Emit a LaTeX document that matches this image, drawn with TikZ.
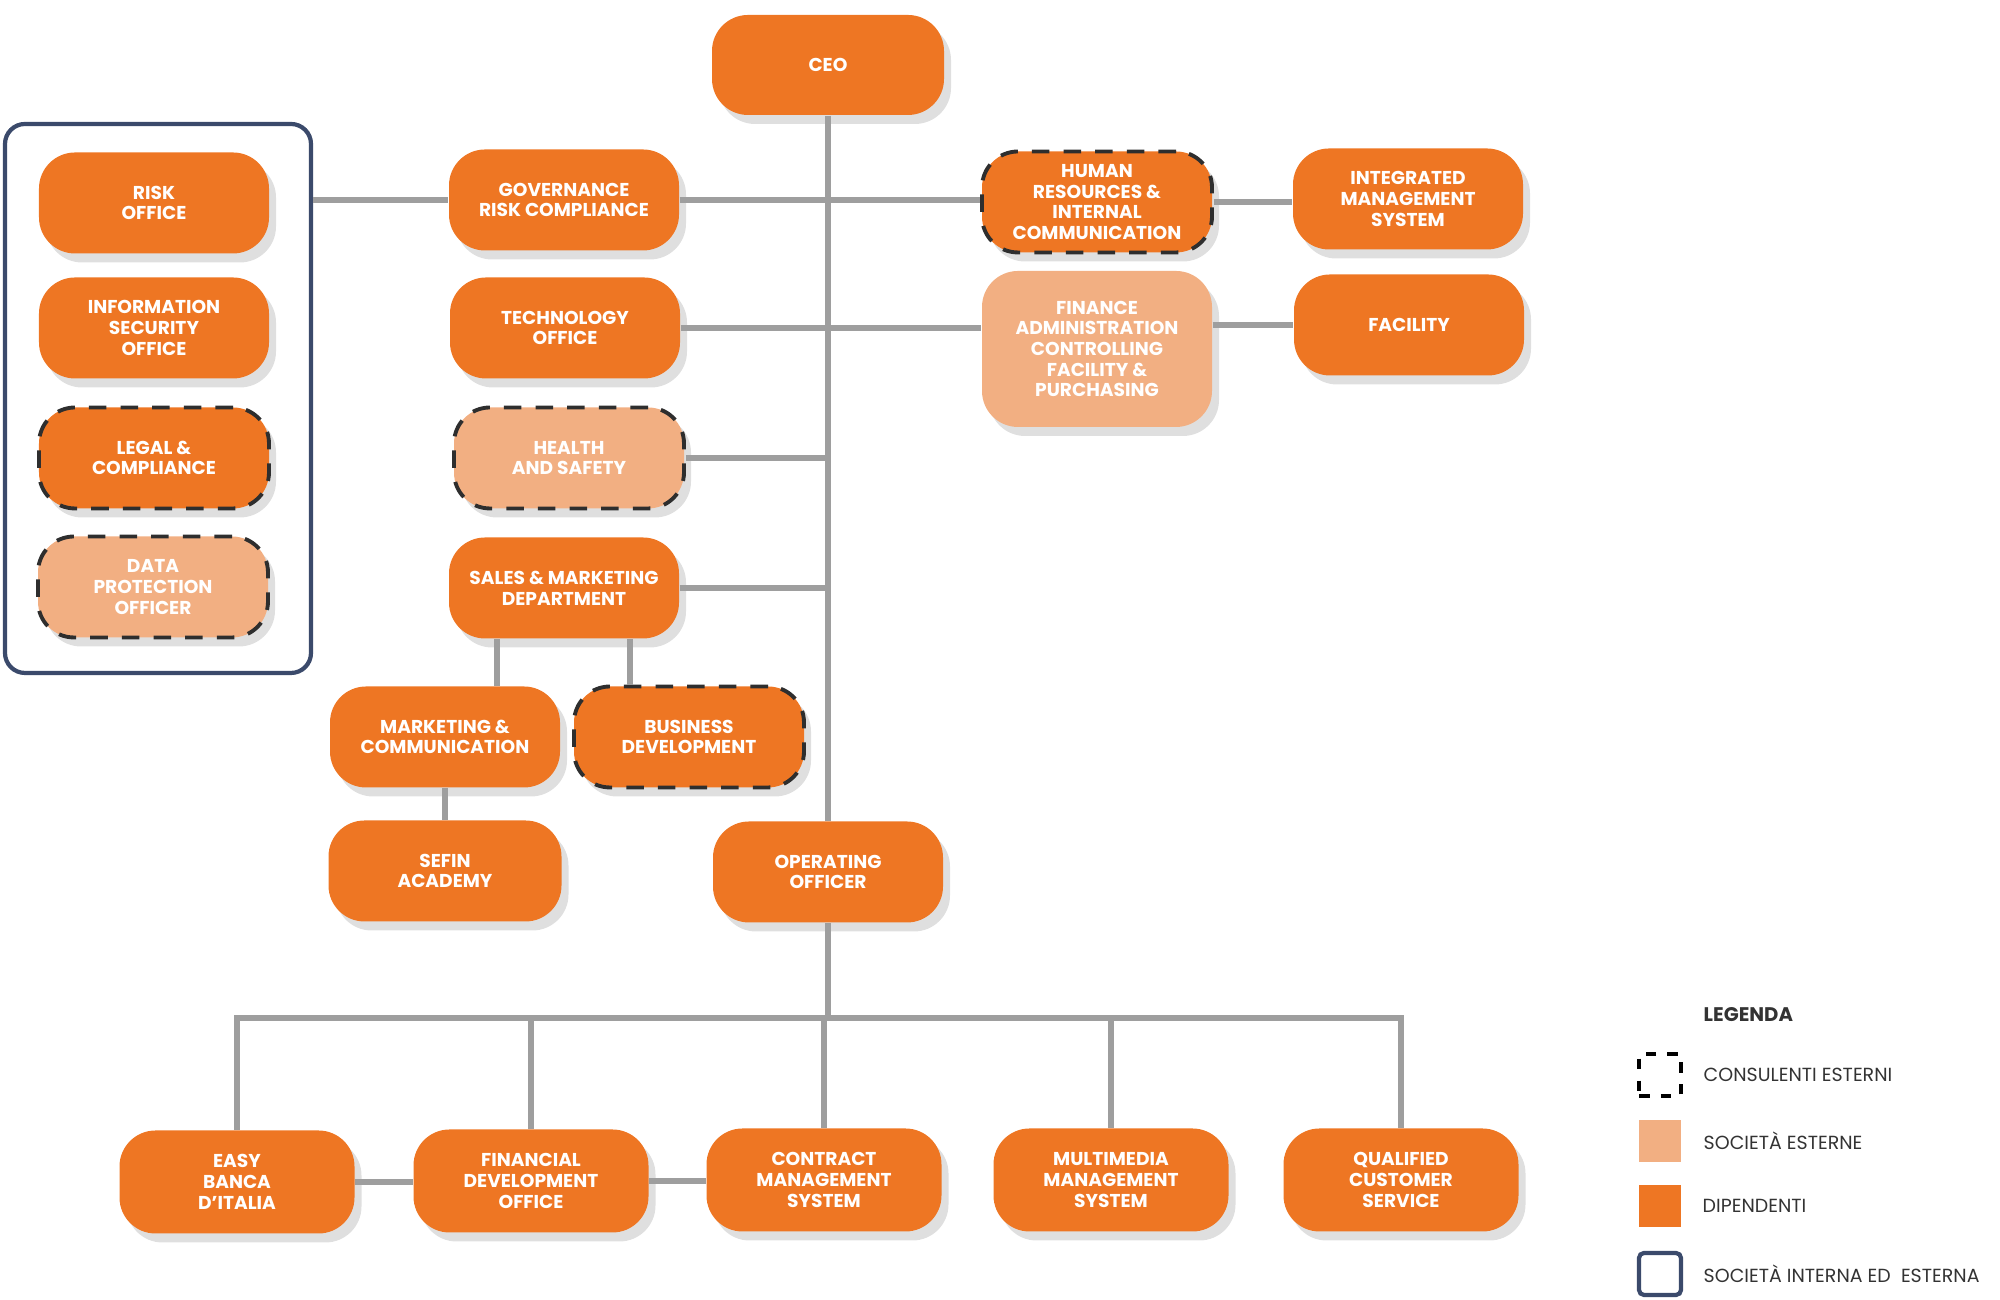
\documentclass[tikz,border=0pt]{standalone}
\usepackage{fontspec}
\setmainfont{Poppins}
\usepackage{xcolor}
\usepackage{tikz}
\usetikzlibrary{
    shapes.geometric,
    shadows
}
\definecolor{arancio}{HTML}{EE7623}
\definecolor{chiaro}{HTML}{F2AF82}
\definecolor{blu}{HTML}{3B4A6B}
\definecolor{grigio}{HTML}{9E9E9E}
\definecolor{tratto}{HTML}{2E2E2E}
\definecolor{scritta}{HTML}{333333}

\begin{document}
\begin{tikzpicture}[
    box/.style={rectangle, rounded corners=0.36cm, fill=arancio, text=white,
        minimum width=2.3cm, minimum height=1.01cm, align=center, inner sep=1pt,
        font=\fontsize{5.3}{5.9}\selectfont\bfseries,
        drop shadow={shadow xshift=0.07cm, shadow yshift=-0.09cm, opacity=0.25}},
    esterna/.style={fill=chiaro},
    consulente/.style={draw=tratto, line width=1.1pt, dash pattern=on 5pt off 4pt},
    linea/.style={draw=grigio, line width=1.9pt},
    gruppo/.style={draw=blu, line width=1.2pt, rounded corners=0.2cm},
    quadro/.style={minimum size=0.42cm, inner sep=0pt},
    voce/.style={anchor=west, text=scritta, inner sep=0pt,
        font=\fontsize{5.4}{6.0}\selectfont}
]
    \useasboundingbox (0,0) rectangle (20,13);

    \node[gruppo, minimum width=3.06cm, minimum height=5.49cm] (grp) at (1.58,9.015) {};

    \node[box, minimum width=2.32cm, minimum height=1.0cm] (ceo) at (8.28,12.35) {CEO};

    \node[box] (risk) at (1.54,10.97) {RISK\\OFFICE};
    \node[box] (iso) at (1.54,9.72) {INFORMATION\\SECURITY\\OFFICE};
    \node[box, consulente] (legal) at (1.54,8.42) {LEGAL \&\\COMPLIANCE};
    \node[box, esterna, consulente] (dpo) at (1.53,7.13) {DATA\\PROTECTION\\OFFICER};

    \node[box] (gov) at (5.64,11.00) {GOVERNANCE\\RISK COMPLIANCE};
    \node[box] (tech) at (5.65,9.72) {TECHNOLOGY\\OFFICE};
    \node[box, esterna, consulente] (hs) at (5.69,8.42) {HEALTH\\AND SAFETY};
    \node[box] (sales) at (5.64,7.12) {SALES \& MARKETING\\DEPARTMENT};
    \node[box] (mkt) at (4.45,5.63) {MARKETING \&\\COMMUNICATION};
    \node[box, consulente] (bd) at (6.89,5.63) {BUSINESS\\DEVELOPMENT};
    \node[box, minimum width=2.33cm] (sefin) at (4.45,4.29) {SEFIN\\ACADEMY};
    \node[box] (op) at (8.28,4.28) {OPERATING\\OFFICER};

    \node[box, consulente] (hr) at (10.97,10.98) {HUMAN\\RESOURCES \&\\INTERNAL\\COMMUNICATION};
    \node[box, esterna, minimum height=1.56cm] (fin) at (10.97,9.51) {FINANCE\\ADMINISTRATION\\CONTROLLING\\FACILITY \&\\PURCHASING};
    \node[box] (ims) at (14.08,11.01) {INTEGRATED\\MANAGEMENT\\SYSTEM};
    \node[box] (fac) at (14.09,9.75) {FACILITY};

    \node[box, minimum width=2.35cm, minimum height=1.03cm] (easy) at (2.37,1.18) {EASY\\BANCA\\D’ITALIA};
    \node[box, minimum width=2.35cm, minimum height=1.03cm] (fdo) at (5.31,1.19) {FINANCIAL\\DEVELOPMENT\\OFFICE};
    \node[box, minimum width=2.35cm, minimum height=1.03cm] (cms) at (8.24,1.20) {CONTRACT\\MANAGEMENT\\SYSTEM};
    \node[box, minimum width=2.35cm, minimum height=1.03cm] (mms) at (11.11,1.20) {MULTIMEDIA\\MANAGEMENT\\SYSTEM};
    \node[box, minimum width=2.35cm, minimum height=1.03cm] (qcs) at (14.01,1.20) {QUALIFIED\\CUSTOMER\\SERVICE};

    \coordinate (bus) at (8.28,2.82);

    \draw[linea] (ceo.south) -- (ceo.south |- op.north);
    \draw[linea] (grp.east |- gov.west) -- (gov.west);
    \draw[linea] (gov.east) -- (gov.east -| hr.west);
    \draw[linea] (hr.east) -- (hr.east -| ims.west);
    \draw[linea] (tech.east) -- (tech.east -| fin.west);
    \draw[linea] (fac.west -| fin.east) -- (fac.west);
    \draw[linea] (hs.east) -- (hs.east -| ceo.south);
    \draw[linea] (sales.east) -- (sales.east -| ceo.south);
    \draw[linea] ([xshift=-6.7mm]sales.south) -- ([xshift=-6.7mm]sales.south |- mkt.north);
    \draw[linea] ([xshift=6.6mm]sales.south) -- ([xshift=6.6mm]sales.south |- bd.north);
    \draw[linea] (mkt.south) -- (sefin.north);

    \draw[linea] (op.south) -- (bus);
    \draw[linea] (easy.north) |- (bus) -| (qcs.north);
    \draw[linea] (fdo.north) -- (fdo.north |- bus);
    \draw[linea] (cms.north) -- (cms.north |- bus);
    \draw[linea] (mms.north) -- (mms.north |- bus);
    \draw[linea] (easy.east) -- (easy.east -| fdo.west);
    \draw[linea] (fdo.east) -- (fdo.east -| cms.west);

    \node[voce, font=\fontsize{5.6}{6.2}\selectfont\bfseries] (leg) at (17.03,2.85) {LEGENDA};
    \node[quadro, draw=black, line width=1pt, dash pattern=on 3pt off 3.2pt] (qcons) at (16.60,2.25) {};
    \node[voce] (tcons) at (17.03,2.25) {CONSULENTI ESTERNI};
    \node[quadro, fill=chiaro] (qest) at (16.60,1.59) {};
    \node[voce] (test) at (17.03,1.59) {SOCIETÀ ESTERNE};
    \node[quadro, fill=arancio] (qdip) at (16.60,0.94) {};
    \node[voce] (tdip) at (17.02,0.94) {DIPENDENTI};
    \node[quadro, draw=blu, line width=1.2pt, rounded corners=0.5mm] (qgrp) at (16.60,0.26) {};
    \node[voce] (tgrp) at (17.03,0.26) {SOCIETÀ INTERNA ED\ \ ESTERNA};
\end{tikzpicture}
\end{document}
